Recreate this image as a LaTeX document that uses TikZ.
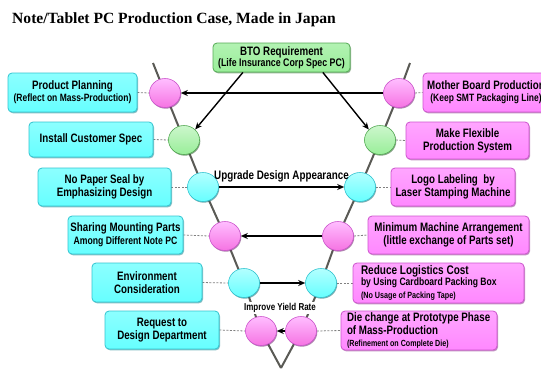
\documentclass[tikz,border=0pt]{standalone}
\usepackage{fontspec}
\setmainfont{Liberation Sans}
\newfontfamily\gf{Liberation Sans}[FakeStretch=0.8]
\newfontfamily\tf{Liberation Serif}
\usetikzlibrary{shapes.geometric,arrows.meta,shadows,backgrounds,calc}
\definecolor{cyanf}{HTML}{66FFFF}
\definecolor{cyanb}{HTML}{33C4D0}
\definecolor{pinkf}{HTML}{FF88FF}
\definecolor{pinkb}{HTML}{CC55CC}
\definecolor{greenf}{HTML}{99EE99}
\definecolor{greenb}{HTML}{55AA55}
\definecolor{vline}{HTML}{5A5A55}
\begin{document}
\begin{tikzpicture}[x=1pt,y=-1pt,
  basebox/.style={rectangle, rounded corners=4pt, line width=0.8pt, align=center, inner sep=2pt,
    font=\gf\bfseries\fontsize{12.2}{13}\selectfont},
  cbox/.style={basebox, draw=cyanb, top color=cyanf!75!white, bottom color=cyanf,
    drop shadow={shadow xshift=1pt,shadow yshift=-1.3pt,fill=cyanb!70!black,opacity=0.55}},
  pbox/.style={basebox, draw=pinkb, top color=pinkf!75!white, bottom color=pinkf,
    drop shadow={shadow xshift=1pt,shadow yshift=-1.3pt,fill=pinkb!70!black,opacity=0.55}},
  gbox/.style={basebox, draw=greenb, top color=greenf!75!white, bottom color=greenf,
    drop shadow={shadow xshift=1pt,shadow yshift=-1.3pt,fill=greenb!70!black,opacity=0.55}},
  ball/.style={ellipse, minimum width=31pt, minimum height=29pt, inner sep=0pt, line width=0.6pt},
  cball/.style={ball, draw=cyanb, top color=cyanf!50!white, bottom color=cyanf,
    drop shadow={shadow xshift=0.8pt,shadow yshift=-1.2pt,fill=cyanb!60!black,opacity=0.6}},
  pball/.style={ball, draw=pinkb, top color=pinkf!55!white, bottom color=pinkf!85!purple,
    drop shadow={shadow xshift=0.8pt,shadow yshift=-1.2pt,fill=pinkb!60!black,opacity=0.6}},
  gball/.style={ball, draw=greenb, top color=greenf!50!white, bottom color=greenf,
    drop shadow={shadow xshift=0.8pt,shadow yshift=-1.2pt,fill=greenb!60!black,opacity=0.6}},
  dcon/.style={draw=gray, line width=0.8pt, dash pattern=on 2pt off 1.5pt},
  arr/.style={draw=black, line width=1.4pt, -{Stealth[length=7pt,width=6pt]}},
  vl/.style={draw=vline, line width=2pt}
]
\useasboundingbox (0,0) rectangle (541,368);

\node[anchor=base west, inner sep=0pt, font=\tf\bfseries\fontsize{15.6}{18}\selectfont] (title) at (12,23)
  {Note/Tablet PC Production Case, Made in Japan};

% top box
\node[gbox, minimum width=137pt, minimum height=29pt] (bto) at (281.5,57.5)
  {BTO Requirement\\[-2pt]{\fontsize{11}{12}\selectfont (Life Insurance Corp Spec PC)}};

% circles
\node[pball] (L1c) at (165,93) {};
\node[gball] (L2c) at (184,140) {};
\node[cball] (L3c) at (203,187) {};
\node[pball] (L4c) at (225,236) {};
\node[cball] (L5c) at (244,283) {};
\node[pball] (L6c) at (261,331) {};
\node[pball] (R1c) at (399,93) {};
\node[gball] (R2c) at (380,140) {};
\node[cball] (R3c) at (360,187) {};
\node[pball] (R4c) at (338,236) {};
\node[cball] (R5c) at (321,283) {};
\node[pball] (R6c) at (301,331) {};

\coordinate (topL) at (153,63);
\coordinate (topR) at (410,63);
\coordinate (bot) at (281,368);

% left boxes
\node[cbox, minimum width=129pt, minimum height=39pt] (L1) at (72.5,92.5)
  {Product Planning\\[-1pt]{\fontsize{10.6}{12}\selectfont (Reflect on Mass-Production)}};
\node[cbox, minimum width=124pt, minimum height=35pt] (L2) at (91,139.5) {Install Customer Spec};
\node[cbox, minimum width=133pt, minimum height=38pt] (L3) at (104.5,187) {No Paper Seal by\\Emphasizing Design};
\node[cbox, minimum width=115pt, minimum height=38pt] (L4) at (125.5,235)
  {Sharing Mounting Parts\\{\fontsize{10.8}{12}\selectfont Among Different Note PC}};
\node[cbox, minimum width=110pt, minimum height=39pt] (L5) at (147,282.5) {Environment\\Consideration};
\node[cbox, minimum width=114pt, minimum height=38pt] (L6) at (162,330) {Request to\\Design Department};

% right boxes
\node[pbox, minimum width=126pt, minimum height=39pt] (R1) at (486,92.5)
  {Mother Board Production\\[-1pt]{\fontsize{10.6}{12}\selectfont (Keep SMT Packaging Line)}};
\node[pbox, minimum width=123pt, minimum height=37pt] (R2) at (467.5,140.5) {Make Flexible\\Production System};
\node[pbox, minimum width=124pt, minimum height=38pt] (R3) at (453,187) {Logo Labeling~ by\\Laser Stamping Machine};
\node[pbox, minimum width=161pt, minimum height=38pt] (R4) at (448.5,235)
  {Minimum Machine Arrangement\\(little exchange of Parts set)};
\node[pbox, minimum height=40pt, inner xsep=8pt, inner ysep=1pt, text width=155pt, align=flush left] (R5) at (438.5,283)
  {\fontsize{12.5}{12}\selectfont Reduce Logistics Cost\\[-1pt]{\fontsize{10.7}{11}\selectfont by Using Cardboard Packing Box}\\[-0.5pt]{\fontsize{9}{10}\selectfont (No Usage of Packing Tape)}};
\node[pbox, minimum height=39pt, inner xsep=3pt, inner ysep=1pt, text width=150pt, align=flush left] (R6) at (419,330.5)
  {\fontsize{12.2}{12.5}\selectfont \hspace*{3pt}Die change at Prototype Phase\\\hspace*{3pt}of Mass-Production\\[-1pt]{\fontsize{8.9}{10}\selectfont \hspace*{3pt}(Refinement on Complete Die)}};

% V lines and dashed connectors
\begin{scope}[on background layer]
  \fill[white] (0,0) rectangle (541,368);
  \draw[vl] (topL) -- (L1c.center) -- (L2c.center) -- (L3c.center) -- (L4c.center) -- (L5c.center) -- (L6c.center) -- (bot);
  \draw[vl] (topR) -- (R1c.center) -- (R2c.center) -- (R3c.center) -- (R4c.center) -- (R5c.center) -- (R6c.center) -- (bot);
  \foreach \n in {1,...,6} {
    \draw[dcon] (L\n.east) -- (L\n c.west);
    \draw[dcon] (R\n c.east) -- (R\n.west);
  }
\end{scope}

% arrows
\draw[arr] (R1c.west) -- (L1c.east);
\draw[arr] ($(bto.south west)!0.22!(bto.south east)$) -- (L2c.north east);
\draw[arr] ($(bto.south west)!0.80!(bto.south east)$) -- (R2c.north west);
\draw[arr] (L3c.east) -- node[above=1pt, font=\gf\bfseries\fontsize{12.3}{13}\selectfont] (lab1) {Upgrade Design Appearance} (R3c.west);
\draw[arr] (R4c.west) -- (L4c.east);
\draw[arr] (L5c.east) -- (R5c.west);
\draw[arr] (R6c.west) -- (L6c.east);
\node[font=\gf\bfseries\fontsize{10}{11}\selectfont, inner sep=1pt, fill=white] (lab2) at (280,308) {Improve Yield Rate};
\end{tikzpicture}
\end{document}
